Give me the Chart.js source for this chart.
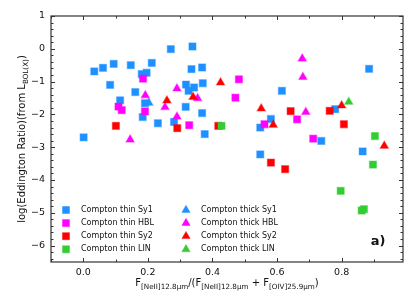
<!DOCTYPE html>
<html>
<head>
<meta charset="utf-8">
<script src="https://cdn.jsdelivr.net/npm/chart.js@4/dist/chart.umd.min.js"></script>
<style>
  html, body { margin: 0; padding: 0; background: #fff; }
</style>
</head>
<body>
<canvas id="chart" width="415" height="308"></canvas>
<script>
// values: x = F[NeII]/(F[NeII]+F[OIV]), y = log Eddington ratio
const thinSy1X = [0.271, 0.338, 0.034, 0.061, 0.094, 0.147, 0.212, 0.181, 0.196, 0.335, 0.368, 0.083, 0.161, 0.114, 0.191, 0.184, 0.231, 0.281, 0.318, 0.326, 0.343, 0.370, 0.317, 0.368, 0.376, 0.001, 0.885, 0.615, 0.780, 0.581, 0.548, 0.737, 0.548, 0.865];
const thinSy1Y = [-0.01, 0.07, -0.69, -0.58, -0.46, -0.50, -0.43, -0.77, -0.73, -0.62, -0.57, -1.10, -1.32, -1.57, -1.66, -2.08, -2.27, -2.23, -1.09, -1.28, -1.18, -1.05, -1.77, -1.96, -2.60, -2.70, -0.61, -1.28, -1.84, -2.14, -2.40, -2.81, -3.22, -3.13];

const thinHblX = [0.185, 0.109, 0.119, 0.191, 0.328, 0.482, 0.471, 0.662, 0.561, 0.712];
const thinHblY = [-0.91, -1.76, -1.87, -1.91, -2.33, -0.93, -1.49, -2.15, -2.30, -2.74];

const thinSy2X = [0.101, 0.291, 0.418, 0.642, 0.763, 0.807, 0.581, 0.625];
const thinSy2Y = [-2.35, -2.42, -2.35, -1.90, -1.89, -2.30, -3.47, -3.67];

const thinLinX = [0.428, 0.903, 0.897, 0.797, 0.862, 0.869];
const thinLinY = [-2.35, -2.66, -3.53, -4.33, -4.93, -4.89];

const thickSy1X = [0.203];
const thickSy1Y = [-1.65];

const thickHblX = [0.192, 0.290, 0.253, 0.290, 0.354, 0.145, 0.678, 0.680, 0.689];
const thickHblY = [-1.42, -1.21, -1.78, -2.07, -1.51, -2.77, -0.30, -0.86, -1.93];

const thickSy2X = [0.259, 0.340, 0.425, 0.551, 0.588, 0.800, 0.932];
const thickSy2Y = [-1.58, -1.47, -1.03, -1.82, -2.32, -1.73, -2.96];

const thickLinX = [0.822];
const thickLinY = [-1.62];

const xTicks = [0.0, 0.2, 0.4, 0.6, 0.8];
const yTicks = [1, 0, -1, -2, -3, -4, -5, -6];

const FONT = '"DejaVu Sans", sans-serif';
const BLUE = '#1e90ff', MAG = '#ff00ff', RED = '#ff0000', GREEN = '#32cd32';

function pts(xs, ys) {
  return xs.map((v, i) => ({ x: v, y: ys[i] }));
}

function series(label, xs, ys, color, style, i) {
  return {
    label: label,
    data: pts(xs, ys),
    pointStyle: style,
    pointRadius: style === 'rect' ? 5 : 4.8,
    backgroundColor: color,
    borderColor: color + '66',
    borderWidth: 1.2,
    showLine: false,
    order: -i
  };
}

const datasets = [
  series('Compton thin Sy1', thinSy1X, thinSy1Y, BLUE, 'rect', 0),
  series('Compton thin HBL', thinHblX, thinHblY, MAG, 'rect', 1),
  series('Compton thin Sy2', thinSy2X, thinSy2Y, RED, 'rect', 2),
  series('Compton thin LIN', thinLinX, thinLinY, GREEN, 'rect', 3),
  series('Compton thick Sy1', thickSy1X, thickSy1Y, BLUE, 'triangle', 4),
  series('Compton thick HBL', thickHblX, thickHblY, MAG, 'triangle', 5),
  series('Compton thick Sy2', thickSy2X, thickSy2Y, RED, 'triangle', 6),
  series('Compton thick LIN', thickLinX, thickLinY, GREEN, 'triangle', 7)
];

// text with subscripts, centred on x
function richText(ctx, parts, x, y, size) {
  let w = 0;
  parts.forEach(p => {
    ctx.font = (p.sub ? size * 0.72 : size) + 'px ' + FONT;
    p.w = ctx.measureText(p.t).width;
    w += p.w;
  });
  let cx = x - w / 2;
  parts.forEach(p => {
    ctx.font = (p.sub ? size * 0.72 : size) + 'px ' + FONT;
    ctx.fillText(p.t, cx, p.sub ? y + size * 0.28 : y);
    cx += p.w;
  });
}

const extras = {
  id: 'extras',
  afterDraw(chart) {
    const ctx = chart.ctx;
    const a = chart.chartArea;
    const x = chart.scales.x, y = chart.scales.y;
    ctx.save();

    // frame
    ctx.strokeStyle = '#333';
    ctx.lineWidth = 1.2;
    ctx.strokeRect(a.left, a.top, a.right - a.left, a.bottom - a.top);

    // inward ticks on all four sides
    ctx.lineWidth = 1;
    function tick(x1, y1, x2, y2) {
      ctx.beginPath(); ctx.moveTo(x1, y1); ctx.lineTo(x2, y2); ctx.stroke();
    }
    for (let v = -0.1; v < x.max; v += 0.1) {
      const px = Math.round(x.getPixelForValue(v)) + 0.5;
      const major = xTicks.some(t => Math.abs(t - v) < 1e-6);
      const len = major ? 4 : 2.5;
      tick(px, a.bottom, px, a.bottom - len);
      tick(px, a.top, px, a.top + len);
    }
    for (let v = -6.4; v <= 1.0001; v += 0.2) {
      const py = Math.round(y.getPixelForValue(v)) + 0.5;
      const major = yTicks.some(t => Math.abs(t - v) < 1e-6);
      const len = major ? 4 : 2.5;
      tick(a.left, py, a.left + len, py);
      tick(a.right, py, a.right - len, py);
    }

    // axis titles
    ctx.fillStyle = '#111';
    ctx.textBaseline = 'alphabetic';
    richText(ctx, [
      { t: 'F' }, { t: '[NeII]12.8\u03bcm', sub: true },
      { t: '/(F' }, { t: '[NeII]12.8\u03bcm', sub: true },
      { t: ' + F' }, { t: '[OIV]25.9\u03bcm', sub: true },
      { t: ')' }
    ], (a.left + a.right) / 2, 286, 10);

    ctx.save();
    ctx.translate(25, (a.top + a.bottom) / 2);
    ctx.rotate(-Math.PI / 2);
    richText(ctx, [
      { t: 'log(Eddington Ratio)(from L' }, { t: 'BOL(X)', sub: true }, { t: ')' }
    ], 0, 0, 10);
    ctx.restore();

    // legend, two columns inside the plot
    chart.data.datasets.forEach((ds, i) => {
      const col = Math.floor(i / 4), row = i % 4;
      const mx = a.left + 15 + col * 120;
      const my = a.top + 194 + row * 13.1;
      ctx.fillStyle = ds.backgroundColor;
      ctx.strokeStyle = ds.borderColor;
      Chart.helpers.drawPoint(ctx, {
        pointStyle: ds.pointStyle, radius: ds.pointRadius, rotation: 0, borderWidth: ds.borderWidth
      }, mx, my);
      ctx.fillStyle = '#111';
      ctx.font = '8px ' + FONT;
      ctx.textAlign = 'left';
      ctx.textBaseline = 'middle';
      ctx.fillText(ds.label, mx + 15, my);
    });

    ctx.font = 'bold 13px ' + FONT;
    ctx.textAlign = 'center';
    ctx.textBaseline = 'middle';
    ctx.fillText('a)', a.right - 25, a.bottom - 20);
    ctx.restore();
  }
};

new Chart(document.getElementById('chart'), {
  type: 'scatter',
  data: { datasets: datasets },
  options: {
    responsive: false,
    animation: false,
    devicePixelRatio: 1,
    layout: { padding: { top: 16, right: 12, left: 0, bottom: 0 } },
    plugins: { legend: { display: false }, tooltip: { enabled: false } },
    scales: {
      x: {
        type: 'linear',
        min: -0.1,
        max: 0.99,
        afterBuildTicks: s => { s.ticks = xTicks.map(v => ({ value: v })); },
        afterFit: s => { s.height = 46; },
        grid: { display: false, drawTicks: false },
        border: { display: false },
        ticks: {
          padding: 5,
          color: '#111',
          font: { family: FONT, size: 9.5 },
          callback: v => v.toFixed(1)
        }
      },
      y: {
        type: 'linear',
        min: -6.5,
        max: 1,
        afterBuildTicks: s => { s.ticks = yTicks.map(v => ({ value: v })); },
        afterFit: s => { s.width = 51; },
        grid: { display: false, drawTicks: false },
        border: { display: false },
        ticks: {
          padding: 6,
          color: '#111',
          font: { family: FONT, size: 9.5 },
          callback: v => (v < 0 ? '\u2212' + Math.abs(v) : String(v))
        }
      }
    }
  },
  plugins: [extras]
});
</script>
</body>
</html>
